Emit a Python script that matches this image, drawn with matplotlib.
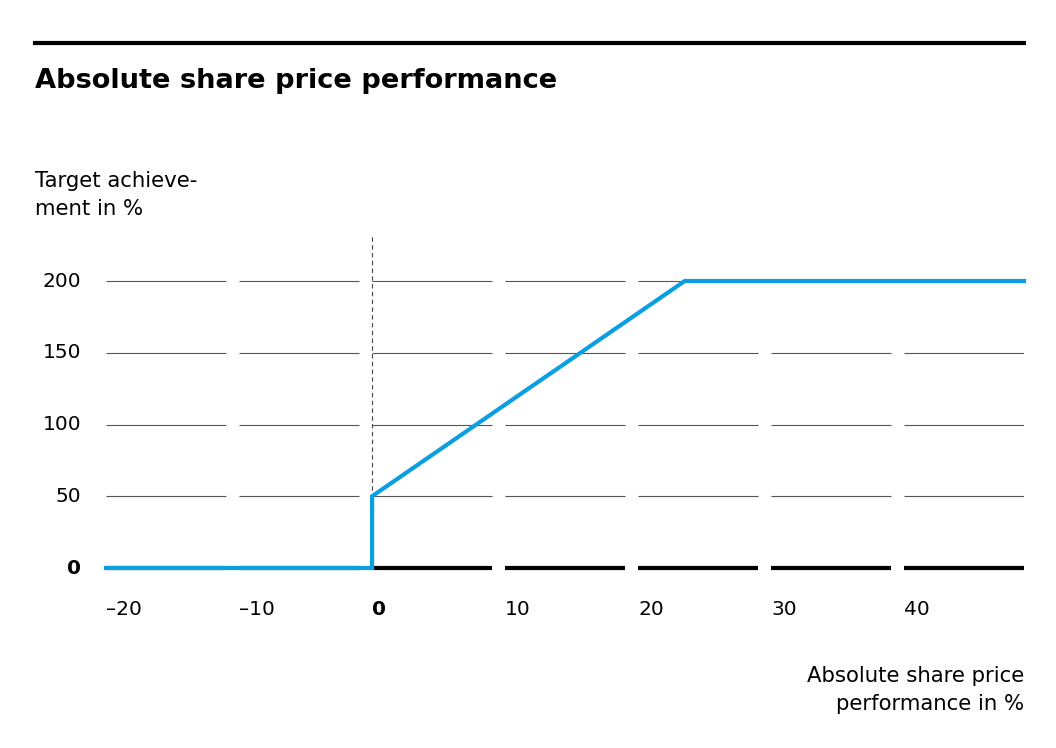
import numpy as np
import matplotlib
matplotlib.use("Agg")
import matplotlib.pyplot as plt

plt.rcParams['font.family'] = ['DejaVu Sans']

# data
perf = [-20, 0, 0, 23.5, 49]          # absolute share price performance in %
achievement = [0, 0, 50, 200, 200]    # target achievement in %
xticks = [-20, -10, 0, 10, 20, 30, 40]
xlabels = ['\u201320', '\u201310', '0', '10', '20', '30', '40']
yticks = [0, 50, 100, 150, 200]
ylabels = ['0', '50', '100', '150', '200']

W, H = 1056, 748
fig = plt.figure(figsize=(W / 100, H / 100), dpi=100)

# axes placed in pixel coords: x -20 at 106px, 49 at 1024px; y 0 at 568px, top at 235px
ax = fig.add_axes([106 / W, (H - 568) / H, 918 / W, 333 / H])
ax.set_xlim(-20, 49)
ax.set_ylim(0, 200 * 333 / 287)
ax.axis('off')

blue = '#0a9fe0'

# segmented grid lines
for y in yticks:
    for t in xticks:
        if y == 0:
            ax.hlines(y, t, t + 9, color='black', lw=3, clip_on=False, zorder=2)
        else:
            ax.hlines(y, t, t + 9, color='#555555', lw=0.8, zorder=1)

ax.axvline(0, color='#444444', lw=0.8, ls=(0, (4, 3)), zorder=1)

ax.plot(perf, achievement, color=blue, lw=3, solid_joinstyle='miter',
        clip_on=False, zorder=3)

# tick labels
for t, lab in zip(xticks, xlabels):
    ax.text(t, -29, lab, ha='left', va='center', fontsize=14.5,
            fontweight='bold' if t == 0 else 'normal')
for y, lab in zip(yticks, ylabels):
    ax.annotate(lab, xy=(-20, y), xytext=(-18, 0), textcoords='offset points',
                ha='right', va='center', fontsize=14.5,
                fontweight='bold' if y == 0 else 'normal')

# header rule and texts
fig.add_artist(plt.Line2D([35 / W, 1024 / W], [1 - 43 / H, 1 - 43 / H],
                          color='black', lw=3))
fig.text(35 / W, 1 - 81 / H, 'Absolute share price performance',
         fontsize=19.6, fontweight='bold', va='center', ha='left')
fig.text(35 / W, 1 - 195 / H, 'Target achieve-\nment in %',
         fontsize=15.3, va='center', ha='left', linespacing=1.55)
fig.text(1024 / W, 1 - 690 / H, 'Absolute share price\nperformance in %',
         fontsize=15.3, va='center', ha='right', linespacing=1.55,
         multialignment='right')

fig.savefig('out.png', dpi=100)
